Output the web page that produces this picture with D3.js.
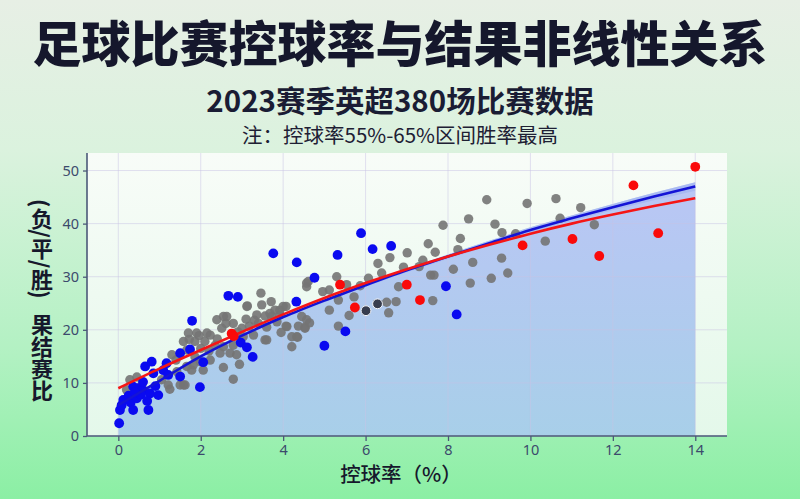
<!DOCTYPE html>
<html><head><meta charset="utf-8">
<script src="https://cdn.jsdelivr.net/npm/d3@7"></script>
<style>html,body{margin:0;padding:0;} svg{display:block}</style>
</head><body>
<svg id="c" width="800" height="499"></svg>
<script>
const titleText = "足球比赛控球率与结果非线性关系";
const subtitleText = "2023赛季英超380场比赛数据";
const noteText = "注：控球率55%-65%区间胜率最高";
const xLabel = "控球率（%）";
const yLabelA = "(负/平/胜)";
const yLabelB = "果结赛比";

const xTicks = [0, 2, 4, 6, 8, 10, 12, 14];
const yTicks = [0, 10, 20, 30, 40, 50];

// fitted curves
const fitX    = [0, 1, 2, 3, 4, 5, 6, 7, 8, 9, 10, 11, 12, 13, 14];
const blueFit = [5.8, 10.4, 15.0, 18.9, 22.4, 25.5, 28.4, 31.2, 33.8, 36.3, 38.8, 41.0, 43.1, 45.1, 47.0];
const redFit  = [9.0, 12.7, 16.2, 19.6, 22.9, 26.0, 28.8, 31.4, 33.8, 36.0, 38.1, 40.0, 41.7, 43.3, 44.8];
const bandHalf = [0.3, 0.3, 0.3, 0.3, 0.3, 0.3, 0.3, 0.35, 0.4, 0.45, 0.5, 0.55, 0.6, 0.7, 0.8];

// gray matches
const grayPts = [
[8.94,44.5],[9.92,43.8],[7.88,39.7],[8.5,40.9],[9.14,39.9],[9.31,38.3],[8.30,37.2],[7.52,36.2],[7.69,34.6],[8.24,35.1],
[9.64,38.1],[7.01,34.5],[6.59,33.6],[6.30,32.5],[7.39,33.1],[8.6,32.7],[9.3,33.5],[6.92,31.8],[6.39,30.7],[8.13,31.4],
[7.58,30.3],[7.66,30.3],[9.45,30.7],[9.05,29.7],[8.54,28.8],[7.3,31.9],[6.07,29.7],[5.87,28.3],[5.3,30.0],[6.8,28.1],
[5.72,26.2],[5.54,28.5],[5.34,25.6],[5.12,27.5],[4.96,27.2],[4.61,29.1],[4.57,28.1],[6.51,25.2],[6.74,25.3],[7.63,25.5],
[6.56,23.2],[5.12,23.7],[5.6,22.7],[5.34,20.7],[4.07,24.4],[3.92,23.7],[4.45,22.5],[4.37,20.7],[4.53,20.3],[4.64,21.3],
[4.07,20.7],[4.35,18.6],[4.21,16.8],[10.62,44.7],[11.22,43.0],[10.72,41.0],[11.55,39.8],[10.36,36.7],
[3.46,26.9],[3.71,25.3],[3.48,24.7],[3.13,24.5],[3.80,23.7],[3.36,22.8],[3.56,22.6],[3.72,22.5],[3.92,22.8],[2.55,22.5],
[2.79,21.2],[2.61,21.2],[2.51,20.3],[3.0,20.3],[3.18,20.7],[3.40,21.2],[3.03,18.7],[3.28,19.0],[3.56,18.1],[4.09,20.6],
[4.21,18.7],[4.33,18.7],[2.23,19.0],[1.90,19.4],[1.86,17.8],[2.10,17.8],[2.35,17.1],[2.55,16.8],[2.79,17.1],[2.47,15.6],
[2.71,15.6],[2.87,15.3],[2.23,14.3],[1.99,14.0],[1.82,13.4],[1.78,12.4],[2.55,12.9],[2.94,13.5],[2.79,10.7],[4.57,21.9],
[4.53,20.5],[4.57,28.8],[2.06,12.4],[1.58,9.6],[1.70,19.4],[1.58,17.8],[1.66,16.2],[1.86,14.9],[1.30,15.3],[1.40,14.3],
[0.28,10.6],[0.45,11.1],[0.57,9.6],[1.21,9.6],[1.25,8.8],[1.50,9.6],[1.62,9.6],[1.05,10.6],[0.2,8.7],[1.42,12.1],
[1.66,13.1],[2.39,21.9],[2.15,19.4],[1.96,18.9],[1.72,18.2],[4.0,24.4],[3.6,18.1],[3.12,24.4],[2.63,22.5],
[3.3,21.8],[3.6,20.5],[3.85,21.5],[3.1,22.0],[2.9,19.6],[2.4,18.3],[2.0,16.5],[2.2,16.0],[3.95,19.5],[3.68,23.1]
];

// blue matches
const bluePts = [
[0.02,2.4],[0.04,4.9],[0.08,5.8],[0.12,6.8],[0.3,6.3],[0.36,4.9],[0.73,4.9],[0.45,7.1],[0.49,9.0],[0.36,9.3],
[0.6,8.6],[0.77,8.0],[0.97,7.7],[0.55,7.8],[0.25,7.6],[0.65,13.1],[0.81,14.0],[0.85,11.8],[1.09,12.4],[1.21,11.5],
[1.17,13.7],[1.50,15.6],[1.74,16.3],[1.50,11.2],[1.98,9.2],[1.79,21.7],[2.06,13.9],[2.67,26.4],[2.90,26.2],[2.97,17.6],
[3.12,16.7],[3.26,14.9],[3.76,34.4],[4.33,32.7],[4.32,25.3],[4.76,29.8],[5.32,34.1],[5.89,38.2],[6.17,35.2],[6.62,35.8],
[5.51,19.7],[5.00,17.0],[7.95,28.2],[8.21,22.9],[0.6,10.2],[0.9,9.4],[0.4,8.2],[0.7,6.6]
];

// red matches
const redPts = [
[2.75,19.3],[2.8,18.8],[5.38,28.5],[5.74,24.2],[7.0,28.5],[7.32,25.6],[9.81,35.9],[11.02,37.1],[11.67,33.9],[12.5,47.2],
[13.1,38.2],[14.0,50.7]
];

// dark matches
const darkPts = [[6.01,23.6],[6.29,24.9]];

const svg = d3.select("#c");
const W = 800, H = 499;
const defs = svg.append("defs");

const bg = defs.append("linearGradient").attr("id","bg").attr("x1",0).attr("y1",0).attr("x2",0).attr("y2",1);
[["0%","#e7efe5"],["30%","#dbf2de"],["70%","#b3f1c3"],["100%","#8bef a4".replace(" ","")]].forEach(s=>bg.append("stop").attr("offset",s[0]).attr("stop-color",s[1]));

const pbg = defs.append("linearGradient").attr("id","pbg").attr("x1",0).attr("y1",0).attr("x2",0).attr("y2",1);
[["0%","#f8fcf8"],["100%","#e4f8ea"]].forEach(s=>pbg.append("stop").attr("offset",s[0]).attr("stop-color",s[1]));

const ag = defs.append("linearGradient").attr("id","ag").attr("x1",0).attr("y1",0).attr("x2",0).attr("y2",1);
[["0%","#bac6f5"],["100%","#a8cfe9"]].forEach(s=>ag.append("stop").attr("offset",s[0]).attr("stop-color",s[1]));

svg.append("rect").attr("width",W).attr("height",H).attr("fill","url(#bg)");

const L = 87, R = 727, T = 153, B = 436;
const x = d3.scaleLinear().domain([-0.76, 14.77]).range([L, R]);
const y = d3.scaleLinear().domain([0, 53.3]).range([B, T]);

svg.append("rect").attr("x",L).attr("y",T).attr("width",R-L).attr("height",B-T).attr("fill","url(#pbg)");

// area under blue fit
const fitData = fitX.map((v,i)=>({x:v, b:blueFit[i], r:redFit[i], h:bandHalf[i]}));
svg.append("path").datum(fitData)
  .attr("d", d3.area().x(d=>x(d.x)).y0(y(0)).y1(d=>y(d.b+d.h)).curve(d3.curveMonotoneX))
  .attr("fill","url(#ag)");
svg.append("path").datum(fitData)
  .attr("d", d3.area().x(d=>x(d.x)).y0(d=>y(d.b-d.h)).y1(d=>y(d.b+d.h)).curve(d3.curveMonotoneX))
  .attr("fill","#9fb2f0").attr("opacity",0.6);

// grid
const grid = svg.append("g");
grid.selectAll(".gx").data(xTicks).join("line")
  .attr("x1",d=>x(d)).attr("x2",d=>x(d)).attr("y1",T).attr("y2",B)
  .attr("stroke","#c9c3e6").attr("stroke-opacity",0.5).attr("stroke-width",1);
grid.selectAll(".gy").data(yTicks).join("line")
  .attr("x1",L).attr("x2",R).attr("y1",d=>y(d)).attr("y2",d=>y(d))
  .attr("stroke","#c9c3e6").attr("stroke-opacity",0.5).attr("stroke-width",1);

// gray points
svg.append("g").selectAll("circle").data(grayPts).join("circle")
  .attr("cx",d=>x(d[0])).attr("cy",d=>y(d[1])).attr("r",4.7)
  .attr("fill","#747474").attr("fill-opacity",0.9);

// blue points
svg.append("g").selectAll("circle").data(bluePts).join("circle")
  .attr("cx",d=>x(d[0])).attr("cy",d=>y(d[1])).attr("r",4.9)
  .attr("fill","#0a0af0");

// lines
const lineB = d3.line().x(d=>x(d.x)).y(d=>y(d.b)).curve(d3.curveMonotoneX);
const lineR = d3.line().x(d=>x(d.x)).y(d=>y(d.r)).curve(d3.curveMonotoneX);
svg.append("path").datum(fitData).attr("d",lineB).attr("fill","none").attr("stroke","#1414d6").attr("stroke-width",2.6);
svg.append("path").datum(fitData).attr("d",lineR).attr("fill","none").attr("stroke","#f51616").attr("stroke-width",2.6);

// red points
svg.append("g").selectAll("circle").data(redPts).join("circle")
  .attr("cx",d=>x(d[0])).attr("cy",d=>y(d[1])).attr("r",4.9)
  .attr("fill","#fa0a0a");

// dark points
svg.append("g").selectAll("circle").data(darkPts).join("circle")
  .attr("cx",d=>x(d[0])).attr("cy",d=>y(d[1])).attr("r",4.9)
  .attr("fill","#363c4e").attr("stroke","#f2f4f8").attr("stroke-width",1);

// axes
const axisColor = "#4b5878";
const xAxis = svg.append("g").attr("transform",`translate(0,${B})`)
  .call(d3.axisBottom(x).tickValues(xTicks).tickSize(5).tickSizeOuter(0).tickPadding(4));
const yAxis = svg.append("g").attr("transform",`translate(${L},0)`)
  .call(d3.axisLeft(y).tickValues(yTicks).tickSize(4).tickSizeOuter(0).tickPadding(4));
xAxis.select(".domain").attr("d",`M${L},0H${R}`);
yAxis.select(".domain").attr("d",`M0,${T}V${B}`);
[xAxis,yAxis].forEach(a=>{
  a.selectAll(".domain").attr("stroke",axisColor).attr("stroke-width",1.6);
  a.selectAll(".tick line").attr("stroke",axisColor).attr("stroke-width",1.3);
  a.selectAll(".tick text").attr("fill","#3c4a6c").attr("font-size",14.5)
    .attr("font-family","'Noto Sans', 'DejaVu Sans', sans-serif");
});

// titles
const cjk = "'Noto Sans CJK SC', 'Noto Sans', sans-serif";
svg.append("text").attr("x",400).attr("y",62).attr("text-anchor","middle")
  .attr("font-family",cjk).attr("font-weight",900).attr("font-size",49).attr("fill","#15172c")
  .text(titleText);
svg.append("text").attr("x",400).attr("y",112).attr("text-anchor","middle")
  .attr("font-family",cjk).attr("font-weight",700).attr("font-size",29.5).attr("fill","#1a1c34")
  .text(subtitleText);
svg.append("text").attr("x",400).attr("y",143).attr("text-anchor","middle")
  .attr("font-family",cjk).attr("font-weight",400).attr("font-size",20.5).attr("fill","#1e2034")
  .text(noteText);

svg.append("text").attr("x",401).attr("y",482).attr("text-anchor","middle")
  .attr("font-family",cjk).attr("font-weight",500).attr("font-size",20.5).attr("fill","#16182c")
  .text(xLabel);

svg.append("text").attr("x",42).attr("y",199)
  .attr("font-family",cjk).attr("font-weight",700).attr("font-size",22).attr("fill","#16182c")
  .style("writing-mode","vertical-rl")
  .text(yLabelA);
svg.append("text").attr("x",42).attr("y",314)
  .attr("font-family",cjk).attr("font-weight",700).attr("font-size",22).attr("fill","#16182c")
  .style("writing-mode","vertical-rl")
  .text(yLabelB);
</script>
</body></html>
